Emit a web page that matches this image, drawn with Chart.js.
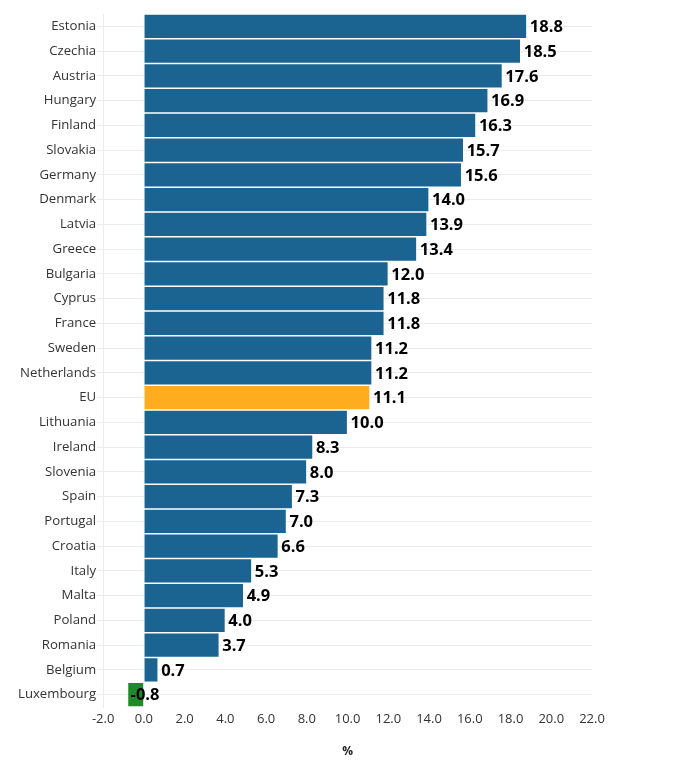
<!DOCTYPE html>
<html>
<head>
<meta charset="utf-8">
<script src="https://cdn.jsdelivr.net/npm/chart.js@4"></script>
<style>
  html, body { margin: 0; padding: 0; background: #fff; }
  #wrap { width: 697px; height: 766px; }
</style>
</head>
<body>
<div id="wrap"><canvas id="gapChart"></canvas></div>
<script>
'use strict';

const countries = ['Estonia', 'Czechia', 'Austria', 'Hungary', 'Finland', 'Slovakia', 'Germany',
  'Denmark', 'Latvia', 'Greece', 'Bulgaria', 'Cyprus', 'France', 'Sweden', 'Netherlands', 'EU',
  'Lithuania', 'Ireland', 'Slovenia', 'Spain', 'Portugal', 'Croatia', 'Italy', 'Malta', 'Poland',
  'Romania', 'Belgium', 'Luxembourg'];
const values = [18.8, 18.5, 17.6, 16.9, 16.3, 15.7, 15.6, 14.0, 13.9, 13.4, 12.0, 11.8, 11.8,
  11.2, 11.2, 11.1, 10.0, 8.3, 8.0, 7.3, 7.0, 6.6, 5.3, 4.9, 4.0, 3.7, 0.7, -0.8];
const xTicks = [-2, 0, 2, 4, 6, 8, 10, 12, 14, 16, 18, 20, 22];

const COLORS = {
  blue: '#1b6391',
  orange: '#ffad1f',
  green: '#1f8b27',
};

const FONT = "'Open Sans', sans-serif";

const barColors = countries.map((c, i) => {
  if (c === 'EU') return COLORS.orange;
  if (values[i] < 0) return COLORS.green;
  return COLORS.blue;
});

// value labels drawn just right of each bar's end
const valueLabels = {
  id: 'valueLabels',
  afterDatasetsDraw(chart) {
    const { ctx } = chart;
    const meta = chart.getDatasetMeta(0);
    ctx.save();
    ctx.font = `bold 16.5px ${FONT}`;
    ctx.fillStyle = '#000';
    ctx.textAlign = 'left';
    ctx.textBaseline = 'middle';
    meta.data.forEach((bar, i) => {
      ctx.fillText(values[i].toFixed(1), bar.x + 3, bar.y + 1);
    });
    ctx.restore();
  }
};

new Chart(document.getElementById('gapChart').getContext('2d'), {
  type: 'bar',
  data: {
    labels: countries,
    datasets: [{
      data: values,
      backgroundColor: barColors,
      borderColor: '#ffffff',
      borderWidth: 1,
      borderSkipped: false,
      barPercentage: 1.0,
      categoryPercentage: 1.0,
    }]
  },
  options: {
    indexAxis: 'y',
    responsive: true,
    maintainAspectRatio: false,
    animation: false,
    layout: { padding: { top: 14, right: 105, bottom: 7, left: 17 } },
    plugins: {
      legend: { display: false },
      tooltip: { enabled: false },
    },
    scales: {
      x: {
        min: -2,
        max: 22,
        afterBuildTicks: (axis) => { axis.ticks = xTicks.map(v => ({ value: v })); },
        ticks: {
          color: '#333',
          font: { family: FONT, size: 13 },
          padding: -4,
          callback: (v) => Number(v).toFixed(1),
        },
        grid: { display: false },
        border: { display: false },
        title: {
          display: true,
          text: '%',
          color: '#222',
          font: { family: FONT, size: 12, weight: 'bold' },
          padding: { top: 22, bottom: 0 },
        },
      },
      y: {
        ticks: {
          color: '#333',
          font: { family: FONT, size: 13.2 },
          padding: 1,
        },
        grid: {
          color: '#ebebeb',
          offset: false,
          tickLength: 6,
        },
        border: { display: true, color: '#ebebeb' },
      },
    },
  },
  plugins: [valueLabels],
});
</script>
</body>
</html>
